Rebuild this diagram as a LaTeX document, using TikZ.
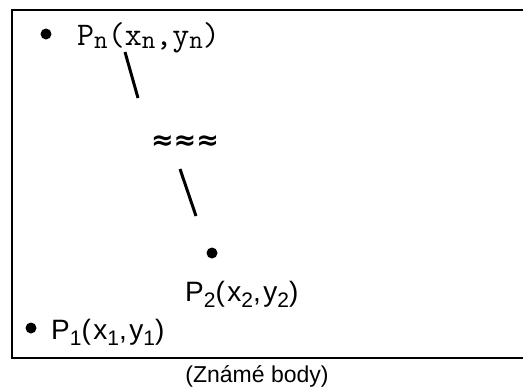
\documentclass[tikz,border=0pt]{standalone}
\usepackage{fontspec}
\setmainfont{Liberation Sans}
\newfontfamily\spaced[LetterSpace=9]{Liberation Sans}
\newfontfamily\dejavu{DejaVu Sans}
\usepackage{tikz}
\usetikzlibrary{positioning}
\newcommand\sbs[1]{\raisebox{-6pt}{\scalebox{0.75}{#1}}}
\newcommand\tsb[1]{\raisebox{-3pt}{\scalebox{0.8}{#1}}}
\tikzset{
  pt/.style={circle,fill=black,inner sep=0pt,minimum size=11pt},
  lbl/.style={inner sep=0pt,font=\spaced\fontsize{28}{30}\selectfont},
  mono/.style={inner sep=0pt,font=\ttfamily\fontsize{33}{36}\selectfont},
  caption/.style={inner sep=0pt,font=\fontsize{23}{26}\selectfont},
  seg/.style={line width=3pt},
  frame/.style={line width=2pt}
}

\begin{document}
\begin{tikzpicture}[x=1pt,y=-1pt]
    \useasboundingbox (0,0) rectangle (523,391);

    % Frame (open to the right)
    \draw[frame] (530,10) -- (12,10) -- (12,358) -- (530,358);

    % Point n
    \node[pt] (dn) at (46,34) {};
    \node[mono,anchor=base west] (pn) at (77,45) {P\tsb{n}(x\tsb{n},y\tsb{n})};

    % Dots between
    \node[inner sep=0pt,font=\dejavu\bfseries\fontsize{27}{30}\selectfont] (wave) at (185,143) {≈≈≈};
    \coordinate (a1) at (125,52);
    \coordinate (b1) at (138,98);
    \coordinate (a2) at (180,169);
    \coordinate (b2) at (196,216);
    \draw[seg] (a1) -- (b1);
    \draw[seg] (a2) -- (b2);

    % Point 2
    \node[pt] (d2) at (212,253) {};
    \node[lbl,anchor=base west] (p2) at (185,301) {P\sbs{2}(x\sbs{2},y\sbs{2})};

    % Point 1
    \node[pt] (d1) at (31,328) {};
    \node[lbl,anchor=base west] (p1) at (51,339) {P\sbs{1}(x\sbs{1},y\sbs{1})};

    % Caption
    \node[caption,anchor=base] (title) at (257,382) {(Známé body)};

\end{tikzpicture}
\end{document}
